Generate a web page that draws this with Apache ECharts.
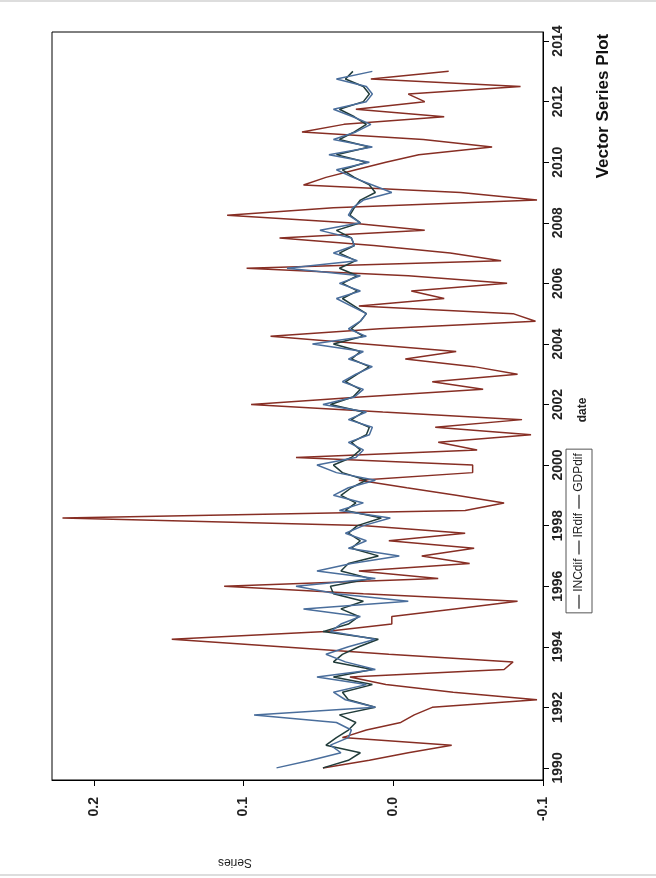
<!DOCTYPE html>
<html><head><meta charset="utf-8">
<script src="https://cdn.jsdelivr.net/npm/echarts@6/dist/echarts.min.js"></script>
<style>html,body{margin:0;padding:0;background:#fff}#c{width:656px;height:878px}</style>
</head><body><div id="c"></div>
<script>
const quarters = [
"1990Q1","1990Q2","1990Q3","1990Q4",
"1991Q1","1991Q2","1991Q3","1991Q4","1992Q1","1992Q2","1992Q3","1992Q4",
"1993Q1","1993Q2","1993Q3","1993Q4","1994Q1","1994Q2","1994Q3","1994Q4",
"1995Q1","1995Q2","1995Q3","1995Q4","1996Q1","1996Q2","1996Q3","1996Q4",
"1997Q1","1997Q2","1997Q3","1997Q4","1998Q1","1998Q2","1998Q3","1998Q4",
"1999Q1","1999Q2","1999Q3","1999Q4","2000Q1","2000Q2","2000Q3","2000Q4",
"2001Q1","2001Q2","2001Q3","2001Q4","2002Q1","2002Q2","2002Q3","2002Q4",
"2003Q1","2003Q2","2003Q3","2003Q4","2004Q1","2004Q2","2004Q3","2004Q4",
"2005Q1","2005Q2","2005Q3","2005Q4","2006Q1","2006Q2","2006Q3","2006Q4",
"2007Q1","2007Q2","2007Q3","2007Q4","2008Q1","2008Q2","2008Q3","2008Q4",
"2009Q1","2009Q2","2009Q3","2009Q4","2010Q1","2010Q2","2010Q3","2010Q4",
"2011Q1","2011Q2","2011Q3","2011Q4","2012Q1","2012Q2","2012Q3","2012Q4",
"2013Q1"];

const INCdif = [0.078,0.055,0.035,0.042,0.030,0.028,0.038,0.093,0.012,0.032,
0.040,0.018,0.051,0.012,0.032,0.045,0.030,0.012,0.042,0.035,
0.022,0.060,-0.010,0.038,0.065,0.012,0.051,0.028,-0.004,0.030,
0.018,0.032,0.020,0.002,0.036,0.020,0.040,0.030,0.012,0.038,0.051,
0.025,0.020,0.030,0.016,0.014,0.030,0.018,0.047,0.026,0.020,
0.034,0.025,0.014,0.030,0.020,0.054,0.018,0.030,0.022,0.018,
0.028,0.038,0.022,0.036,0.022,0.071,0.024,0.040,0.026,0.028,
0.049,0.022,0.030,0.027,0.020,0.001,0.014,0.027,0.038,0.016,
0.043,0.014,0.040,0.025,0.015,0.027,0.040,0.018,0.014,0.018,
0.038,0.014];

const IRdif = [0.047,0.016,-0.010,-0.039,0.034,0.018,-0.005,-0.014,-0.026,-0.096,
-0.040,0.005,0.029,-0.074,-0.080,0.003,0.075,0.148,0.045,0.001,
0.001,-0.041,-0.083,0.020,0.113,-0.030,0.023,-0.051,-0.019,-0.054,
0.003,-0.048,0.021,0.221,-0.048,-0.074,-0.042,-0.009,0.023,-0.053,-0.053,
0.065,-0.056,-0.030,-0.092,-0.028,-0.086,0.007,0.095,0.022,-0.060,
-0.026,-0.083,-0.054,-0.008,-0.042,0.019,0.082,0.009,-0.095,-0.080,
0.023,-0.034,-0.012,-0.076,-0.010,0.098,-0.072,-0.038,0.013,0.076,
-0.021,0.030,0.111,0.040,-0.096,-0.045,0.060,0.045,0.025,0.005,
-0.017,-0.066,-0.020,0.061,0.033,-0.034,0.025,-0.021,-0.010,-0.085,
0.015,-0.037];

const GDPdif = [0.047,0.030,0.022,0.045,0.038,0.030,0.025,0.036,0.012,0.030,
0.034,0.014,0.040,0.014,0.040,0.034,0.023,0.010,0.047,0.030,
0.023,0.035,0.020,0.040,0.042,0.015,0.035,0.030,0.010,0.028,
0.022,0.030,0.024,0.008,0.032,0.025,0.035,0.028,0.018,0.034,0.040,
0.028,0.022,0.028,0.018,0.016,0.028,0.020,0.042,0.027,0.022,
0.032,0.024,0.016,0.028,0.022,0.040,0.020,0.028,0.022,0.018,
0.026,0.034,0.024,0.034,0.024,0.036,0.025,0.036,0.026,0.028,
0.038,0.022,0.029,0.026,0.022,0.012,0.016,0.026,0.034,0.018,
0.038,0.016,0.036,0.026,0.018,0.026,0.036,0.020,0.016,0.020,
0.032,0.027];

const dateTicks = [1990,1992,1994,1996,1998,2000,2002,2004,2006,2008,2010,2012,2014];
const seriesTicks = [-0.1,0.0,0.1,0.2];
const legendNames = ["INCdif","IRdif","GDPdif"];

function qTime(s){ return +s.slice(0,4) + (+s.slice(5)-1)/4; }
function pairs(vals){ return vals.map((v,i)=>[v, qTime(quarters[i])]); }

const FONT = 'Liberation Sans';
const chart = echarts.init(document.getElementById('c'), null, {renderer:'canvas'});

// legend drawn horizontally, then rotated to read bottom-to-top
const LF = '12px ' + FONT;
const ctx = document.createElement('canvas').getContext('2d');
ctx.font = LF;
const LINE = 14, PAD = 4;
let total = PAD;
legendNames.forEach((n,k)=>{ total += LINE + 3 + ctx.measureText(n).width + (k<legendNames.length-1?4:0); });
total += PAD;
const legChildren = [{type:'rect', shape:{x:-total/2,y:-13,width:total,height:26}, style:{fill:'#fff',stroke:'#555',lineWidth:1}}];
let lx = -total/2 + PAD;
legendNames.forEach((n,k)=>{
  legChildren.push({type:'line', shape:{x1:lx,y1:0,x2:lx+LINE,y2:0}, style:{stroke:'#222',lineWidth:1.2}});
  lx += LINE + 3;
  legChildren.push({type:'text', x:lx, y:0, style:{text:n, fill:'#222', font:LF, textAlign:'left', textVerticalAlign:'middle'}});
  lx += ctx.measureText(n).width + 4;
});

const option = {
  backgroundColor:'#fff',
  animation:false,
  grid:{left:52, right:113, top:32, bottom:98, show:true, borderColor:'#000', borderWidth:1, backgroundColor:'#fff'},
  xAxis:{type:'value', min:-0.1, max:0.228, inverse:true, position:'bottom',
    axisLine:{show:true, onZero:false, lineStyle:{color:'#000'}},
    axisTick:{show:true, length:6, customValues:seriesTicks, lineStyle:{color:'#000'}},
    axisLabel:{customValues:seriesTicks, rotate:90, margin:17, formatter:v=>v.toFixed(1), color:'#222', fontSize:14, fontWeight:'bold', fontFamily:FONT},
    splitLine:{show:false}},
  yAxis:{type:'value', min:1989.6, max:2014.3, position:'right',
    axisLine:{show:true, onZero:false, lineStyle:{color:'#000'}},
    axisTick:{show:true, length:6, customValues:dateTicks, lineStyle:{color:'#000'}},
    axisLabel:{customValues:dateTicks, rotate:90, margin:8, formatter:v=>String(Math.round(v)), color:'#222', fontSize:14, fontWeight:'bold', fontFamily:FONT},
    splitLine:{show:false}},
  series:[
    {name:'IRdif', type:'line', data:pairs(IRdif), showSymbol:false, z:2, lineStyle:{color:'#872e24', width:1.5}},
    {name:'GDPdif', type:'line', data:pairs(GDPdif), showSymbol:false, z:3, lineStyle:{color:'#213c3a', width:1.5}},
    {name:'INCdif', type:'line', data:pairs(INCdif), showSymbol:false, z:4, lineStyle:{color:'#4a6e9c', width:1.5}}
  ],
  graphic:[
    {type:'line', shape:{x1:0,y1:1,x2:656,y2:1}, style:{stroke:'#bbb',lineWidth:1}},
    {type:'line', shape:{x1:0,y1:875,x2:656,y2:875}, style:{stroke:'#bbb',lineWidth:1}},
    {type:'text', x:603, y:106, rotation:Math.PI/2, style:{text:'Vector Series Plot', fill:'#111', font:'bold 17px '+FONT, textAlign:'center', textVerticalAlign:'middle'}},
    {type:'text', x:583, y:410, rotation:Math.PI/2, style:{text:'date', fill:'#222', font:'bold 12px '+FONT, textAlign:'center', textVerticalAlign:'middle'}},
    {type:'text', x:235, y:862, rotation:Math.PI, style:{text:'Series', fill:'#222', font:'12px '+FONT, textAlign:'center', textVerticalAlign:'middle'}},
    {type:'group', x:579, y:531, rotation:Math.PI/2, children:legChildren}
  ]
};
chart.setOption(option);
</script></body></html>
